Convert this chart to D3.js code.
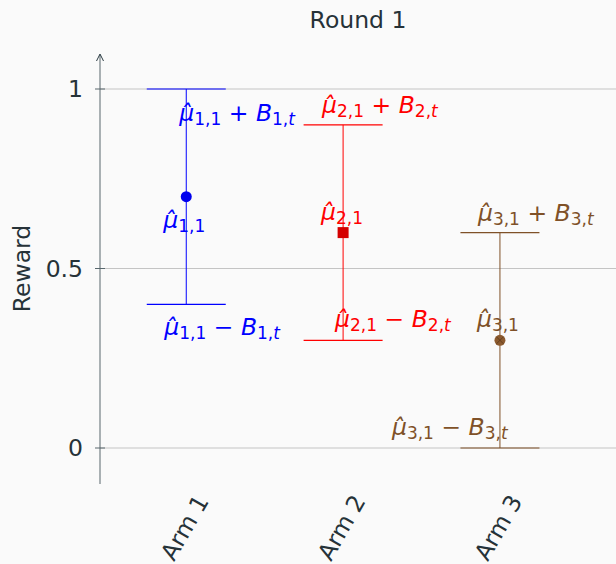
<!DOCTYPE html>
<html>
<head>
<meta charset="utf-8">
<script src="https://cdn.jsdelivr.net/npm/d3@7"></script>
<style>
  body { margin: 0; background: #fafafa; }
  text { font-family: "DejaVu Sans", sans-serif; }
</style>
</head>
<body>
<div class="graph"></div>
<script>
// data
const arms = ["Arm 1", "Arm 2", "Arm 3"];
const means = [0.7, 0.6, 0.3];
const bonus = [0.3, 0.3, 0.3];
const yTicks = [0, 0.5, 1];
const yTickLabels = ["0", "0.5", "1"];

const colors = ["#0000ff", "#ff0000", "#7f5128"];
const markColors = ["#0000ee", "#d40000", "#8c5a2e"];

// label placement: [dx, dy from value] for upper / mean / lower labels
const labelPos = [
  { up: [-7, 32], mid: [-23, 31], lo: [-22, 31] },
  { up: [-21, -12], mid: [-22, -13], lo: [-8, -13] },
  { up: [-22, -12], mid: [-23, -13], lo: [-108, -13] }
];

const W = 616, H = 564;
const fs = 23.5, subFs = 17;
const svg = d3.select('.graph').append('svg')
  .attr('width', W).attr('height', H);

const x = d3.scaleLinear().domain([0.45, 3.74]).range([100, 616]);
const y = d3.scaleLinear().domain([0, 1]).range([448, 89]);

// grid
svg.append('g').selectAll('line').data(yTicks).join('line')
  .attr('x1', 100).attr('x2', W)
  .attr('y1', d => y(d)).attr('y2', d => y(d))
  .attr('stroke', '#c4c4c4').attr('stroke-width', 1);

// y axis
const axisColor = '#58676d';
const yAxis = svg.append('g').attr('transform', 'translate(100,0)');
yAxis.append('line').attr('x1', 0).attr('x2', 0).attr('y1', 55).attr('y2', 484)
  .attr('stroke', axisColor).attr('stroke-width', 1);
yAxis.append('path').attr('d', 'M-3.5,61 L0,54 L3.5,61')
  .attr('fill', 'none').attr('stroke', '#2a3b42').attr('stroke-width', 1);
yAxis.selectAll('.tick').data(yTicks).join('line')
  .attr('x1', -5).attr('x2', 5).attr('y1', d => y(d)).attr('y2', d => y(d))
  .attr('stroke', axisColor);
yAxis.selectAll('.lbl').data(yTicks).join('text')
  .attr('x', -17).attr('y', d => y(d)).attr('dy', '0.35em')
  .attr('text-anchor', 'end').attr('font-size', fs).attr('fill', '#263238')
  .text((d, i) => yTickLabels[i]);

svg.append('text')
  .attr('transform', `translate(30,${y(0.5)}) rotate(-90)`)
  .attr('text-anchor', 'middle').attr('font-size', fs).attr('fill', '#263238')
  .text('Reward');

svg.append('text').attr('x', 358).attr('y', 28).attr('text-anchor', 'middle')
  .attr('font-size', fs).attr('fill', '#263238').text('Round 1');

// x labels
arms.forEach((a, i) => {
  svg.append('text')
    .attr('transform', `translate(${x(i + 1) + 16},${497}) rotate(-60)`)
    .attr('text-anchor', 'end').attr('dy', '0.35em')
    .attr('font-size', fs).attr('fill', '#263238').text(a);
});

// error bars
const g = svg.append('g');
arms.forEach((a, i) => {
  const c = colors[i];
  const cx = x(i + 1);
  const hi = means[i] + bonus[i], lo = means[i] - bonus[i];
  g.append('line').attr('x1', cx).attr('x2', cx).attr('y1', y(hi)).attr('y2', y(lo))
    .attr('stroke', c).attr('stroke-width', 1);
  [hi, lo].forEach(v => {
    g.append('line').attr('x1', cx - 39.5).attr('x2', cx + 39.5)
      .attr('y1', y(v)).attr('y2', y(v)).attr('stroke', c).attr('stroke-width', 1.2);
  });
});

// markers
g.append('circle').attr('cx', x(1)).attr('cy', y(means[0])).attr('r', 5.5).attr('fill', markColors[0]);
g.append('rect').attr('x', x(2) - 5.5).attr('y', y(means[1]) - 5.5)
  .attr('width', 11).attr('height', 11).attr('fill', markColors[1]);
g.append('circle').attr('cx', x(3)).attr('cy', y(means[2])).attr('r', 5.5).attr('fill', markColors[2]);
g.append('path')
  .attr('d', `M${x(3) - 3.5},${y(means[2]) - 3.5}L${x(3) + 3.5},${y(means[2]) + 3.5}M${x(3) - 3.5},${y(means[2]) + 3.5}L${x(3) + 3.5},${y(means[2]) - 3.5}`)
  .attr('stroke', '#5a3a1c').attr('stroke-width', 0.8);

// math labels
function mathLabel(px, py, i, kind, color) {
  const t = svg.append('text').attr('x', px).attr('y', py)
    .attr('font-size', fs).attr('fill', color).attr('xml:space', 'preserve');
  t.append('tspan').attr('font-style', 'italic').text('\u03BC\u0302');
  t.append('tspan').attr('font-size', subFs).attr('dy', 4).text(`${i + 1},1`);
  if (kind === 'mid') return;
  t.append('tspan').attr('dy', -4).text(kind === 'up' ? ' + ' : ' \u2212 ');
  t.append('tspan').attr('font-style', 'italic').text('B');
  t.append('tspan').attr('font-size', subFs).attr('dy', 4).text(`${i + 1},`);
  t.append('tspan').attr('font-size', subFs).attr('font-style', 'italic').text('t');
}

arms.forEach((a, i) => {
  const cx = x(i + 1);
  const p = labelPos[i];
  const vals = { up: means[i] + bonus[i], mid: means[i], lo: means[i] - bonus[i] };
  ['up', 'mid', 'lo'].forEach(k => {
    mathLabel(cx + p[k][0], y(vals[k]) + p[k][1], i, k, colors[i]);
  });
});
</script>
</body>
</html>
